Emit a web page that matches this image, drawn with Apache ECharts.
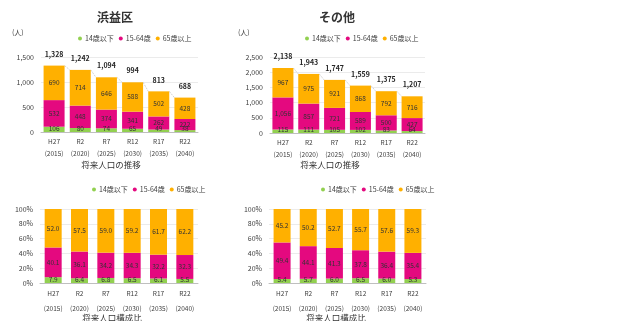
<!DOCTYPE html>
<html><head><meta charset="utf-8">
<script src="https://cdn.jsdelivr.net/npm/echarts@6/dist/echarts.min.js"></script>
<style>html,body{margin:0;padding:0;background:#fff}#c{width:644px;height:321px}</style>
</head><body><div id="c"></div>
<script>
const categories = ['H27\n(2015)','R2\n(2020)','R7\n(2025)','R12\n(2030)','R17\n(2035)','R22\n(2040)'];
const seriesNames = ['14歳以下','15-64歳','65歳以上'];
// 浜益区 (people)
const hKids = [106, 80, 74, 65, 49, 38];
const hWork = [532, 448, 374, 341, 262, 222];
const hOld  = [690, 714, 646, 588, 502, 428];
const hTotal = [1328, 1242, 1094, 994, 813, 688];
// その他 (people)
const oKids = [115, 111, 105, 102, 83, 64];
const oWork = [1056, 857, 721, 589, 500, 427];
const oOld  = [967, 975, 921, 868, 792, 716];
const oTotal = [2138, 1943, 1747, 1559, 1375, 1207];
// 浜益区 (%)
const hKidsPct = [7.9, 6.4, 6.8, 6.5, 6.1, 5.5];
const hWorkPct = [40.1, 36.1, 34.2, 34.3, 32.2, 32.3];
const hOldPct  = [52.0, 57.5, 59.0, 59.2, 61.7, 62.2];
// その他 (%)
const oKidsPct = [5.4, 5.7, 6.0, 6.5, 6.0, 5.3];
const oWorkPct = [49.4, 44.1, 41.3, 37.8, 36.4, 35.4];
const oOldPct  = [45.2, 50.2, 52.7, 55.7, 57.6, 59.3];

const colors = ['#92D050', '#E4097F', '#FFB000'];
const FONT = '"Noto Sans CJK JP", "Noto Sans", sans-serif';
const txt = '#404040';

const chart = echarts.init(document.getElementById('c'), null, {renderer: 'canvas'});
const grids = [
  {left: 41, top: 57, width: 157, height: 75},
  {left: 270, top: 57, width: 155, height: 76},
  {left: 40, top: 209, width: 158, height: 74},
  {left: 269, top: 209, width: 157, height: 74}
];
const fmtN = v => Number(v).toLocaleString('en-US');
const fmtP = v => Number(v).toFixed(1);

function xAxis(i, margin, lh) {
  return {type: 'category', gridIndex: i, data: categories,
    axisLine: {lineStyle: {color: '#bfbfbf'}}, axisTick: {show: false},
    axisLabel: {interval: 0, hideOverlap: false, fontSize: 6.5, color: txt, margin: margin, lineHeight: lh, fontFamily: FONT}};
}
function yAxis(i, max, interval, fmt) {
  return {type: 'value', gridIndex: i, min: 0, max: max, interval: interval,
    axisLine: {show: false}, axisTick: {show: false},
    splitLine: {lineStyle: {color: '#e6e6e6', width: 0.8}},
    axisLabel: {fontSize: 7, color: txt, margin: 7, formatter: fmt, fontFamily: FONT}};
}
function stack(i, arrs, bw, fmt, stk) {
  return arrs.map((d, k) => ({
    name: seriesNames[k], type: 'bar', xAxisIndex: i, yAxisIndex: i, stack: stk,
    barWidth: bw, data: d, itemStyle: {color: colors[k]},
    label: {show: true, position: k === 0 ? 'insideBottom' : 'inside', distance: 0,
      fontSize: 6.5, color: '#333', fontFamily: FONT, formatter: p => fmt(p.value)}
  }));
}
function totals(i, d, bw) {
  return {name: 'total' + i, type: 'bar', xAxisIndex: i, yAxisIndex: i, barWidth: bw,
    barGap: '-100%', data: d, z: 0, silent: true,
    itemStyle: {color: 'rgba(0,0,0,0)'},
    label: {show: true, position: 'top', distance: 8, fontSize: 7, fontWeight: 'bold',
      color: '#262626', fontFamily: FONT, formatter: p => fmtN(p.value)}};
}
function seriesLines(i, d, half) {
  return {name: 'lines' + i, type: 'custom', xAxisIndex: i, yAxisIndex: i, z: 1, silent: true,
    data: d.slice(0, -1).map((v, k) => [k, v, k + 1, d[k + 1]]),
    renderItem: (params, api) => {
      const a = api.coord([api.value(0), api.value(1)]);
      const b = api.coord([api.value(2), api.value(3)]);
      return {type: 'line', shape: {x1: a[0] + half, y1: a[1], x2: b[0] - half, y2: b[1]},
        style: {stroke: '#c8c8c8', lineWidth: 0.8, lineDash: [2, 1]}};
    }};
}
function legend(left, top) {
  return {left: left, top: top, data: seriesNames, icon: 'circle', itemWidth: 4, itemHeight: 4,
    itemGap: 5, padding: 0, textStyle: {fontSize: 7, color: txt, fontFamily: FONT, padding: [0,0,0,-2]},
    selectedMode: false};
}

const option = {
  animation: false,
  textStyle: {fontFamily: FONT},
  grid: grids,
  xAxis: [xAxis(0, 4, 12), xAxis(1, 4, 12), xAxis(2, 3, 15), xAxis(3, 3, 15)],
  yAxis: [yAxis(0, 1500, 500, v => fmtN(v)), yAxis(1, 2500, 500, v => fmtN(v)),
          yAxis(2, 100, 20, v => v + '%'), yAxis(3, 100, 20, v => v + '%')],
  legend: [legend(78, 35), legend(305, 35), legend(92, 186), legend(321, 186)],
  title: [
    {text: '浜益区', left: 110, top: 6, textAlign: 'center', textStyle: {fontSize: 12, fontWeight: 'bold', color: '#333', fontFamily: FONT}},
    {text: 'その他', left: 332, top: 6, textAlign: 'center', textStyle: {fontSize: 12, fontWeight: 'bold', color: '#333', fontFamily: FONT}}
  ],
  graphic: [
    {type: 'text', left: 12, top: 29, style: {text: '(人)', fontSize: 7, fill: txt, fontFamily: FONT}},
    {type: 'text', left: 238, top: 29, style: {text: '(人)', fontSize: 7, fill: txt, fontFamily: FONT}},
    {type: 'text', x: 111, y: 165, style: {text: '将来人口の推移', fontSize: 8.5, fill: '#333', align: 'center', verticalAlign: 'middle', fontFamily: FONT}},
    {type: 'text', x: 330, y: 165, style: {text: '将来人口の推移', fontSize: 8.5, fill: '#333', align: 'center', verticalAlign: 'middle', fontFamily: FONT}},
    {type: 'text', x: 112, y: 318, style: {text: '将来人口構成比', fontSize: 8.5, fill: '#333', align: 'center', verticalAlign: 'middle', fontFamily: FONT}},
    {type: 'text', x: 336, y: 318, style: {text: '将来人口構成比', fontSize: 8.5, fill: '#333', align: 'center', verticalAlign: 'middle', fontFamily: FONT}}
  ],
  series: [].concat(
    stack(0, [hKids, hWork, hOld], 21, fmtN, 'a'), [totals(0, hTotal, 21), seriesLines(0, hTotal, 10.5)],
    stack(1, [oKids, oWork, oOld], 21, fmtN, 'b'), [totals(1, oTotal, 21), seriesLines(1, oTotal, 10.5)],
    stack(2, [hKidsPct, hWorkPct, hOldPct], 17, fmtP, 'c'),
    stack(3, [oKidsPct, oWorkPct, oOldPct], 17, fmtP, 'd')
  )
};
chart.setOption(option);
</script></body></html>
